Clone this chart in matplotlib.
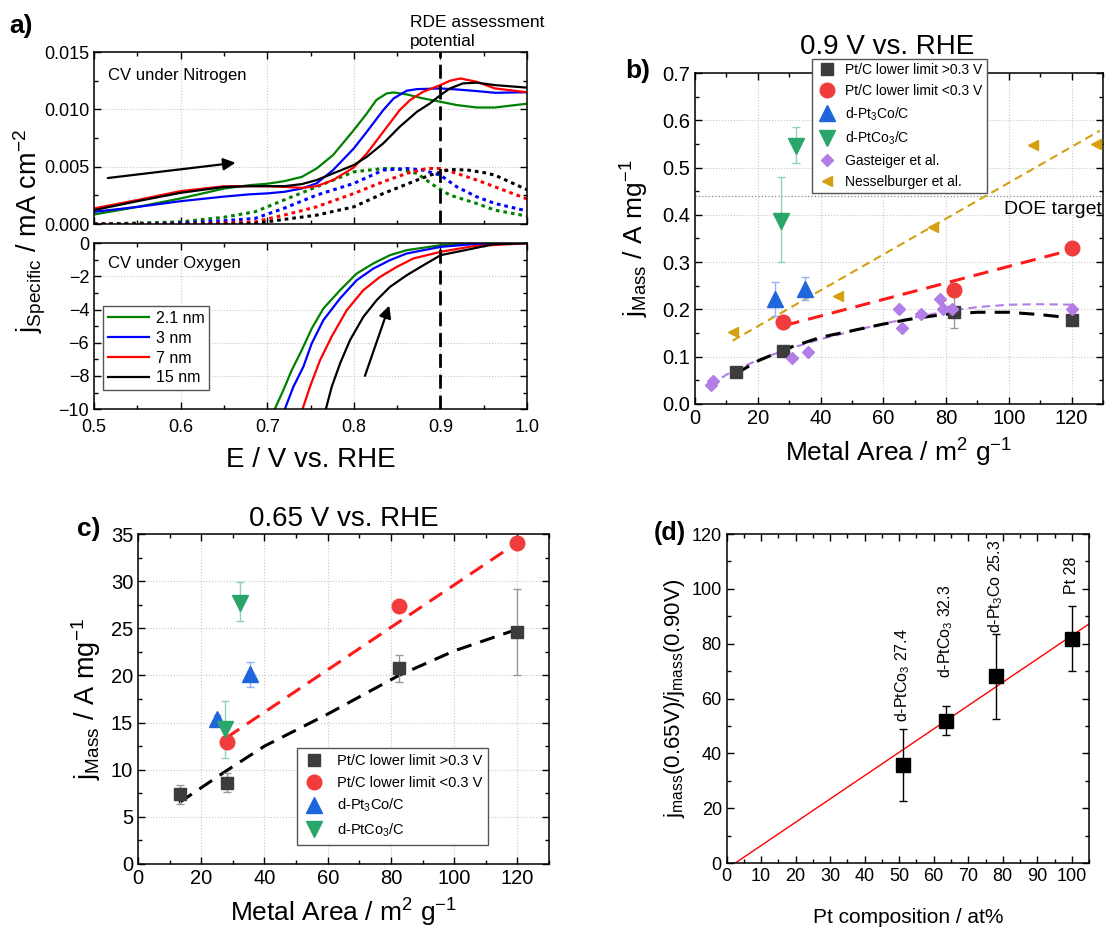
import matplotlib.pyplot as plt
from matplotlib.ticker import MultipleLocator, AutoMinorLocator

plt.rcParams['font.family'] = ['Liberation Sans', 'DejaVu Sans']
plt.rcParams['mathtext.default'] = 'regular'

# ---------------- panel a: CV data ----------------
sizes = ['2.1 nm', '3 nm', '7 nm', '15 nm']
size_colors = ['#008000', '#0000ff', '#ff0000', '#000000']

# solid lines, CV under nitrogen
n_E = [
    [0.50, 0.55, 0.60, 0.65, 0.68, 0.70, 0.72, 0.74, 0.757, 0.776, 0.80, 0.815, 0.826, 0.838, 0.846, 0.861, 0.880, 0.90, 0.919, 0.942, 0.963, 1.00],
    [0.50, 0.55, 0.60, 0.65, 0.68, 0.70, 0.72, 0.74, 0.757, 0.776, 0.80, 0.815, 0.834, 0.846, 0.861, 0.873, 0.90, 0.919, 0.942, 0.963, 1.00],
    [0.50, 0.55, 0.60, 0.65, 0.68, 0.70, 0.72, 0.74, 0.757, 0.776, 0.80, 0.815, 0.834, 0.853, 0.865, 0.880, 0.90, 0.911, 0.923, 0.942, 0.963, 1.00],
    [0.50, 0.55, 0.60, 0.65, 0.68, 0.70, 0.72, 0.74, 0.757, 0.776, 0.80, 0.815, 0.834, 0.853, 0.873, 0.888, 0.90, 0.911, 0.926, 0.942, 0.963, 1.00],
]
n_j = [
    [0.00084, 0.0015, 0.00224, 0.0031, 0.0034, 0.00352, 0.00375, 0.00412, 0.00485, 0.00602, 0.0082, 0.00965, 0.01082, 0.0114, 0.01148, 0.01131, 0.01096, 0.01067, 0.01038, 0.01017, 0.01017, 0.0105],
    [0.00107, 0.0015, 0.0020, 0.0024, 0.0026, 0.00268, 0.00282, 0.00311, 0.00355, 0.00471, 0.0066, 0.00805, 0.00994, 0.01096, 0.01163, 0.01177, 0.01183, 0.01174, 0.0116, 0.01145, 0.0115],
    [0.00137, 0.0021, 0.00288, 0.0033, 0.00331, 0.00331, 0.00325, 0.00316, 0.00331, 0.00384, 0.00494, 0.00616, 0.00805, 0.00994, 0.01082, 0.01154, 0.01212, 0.0125, 0.0127, 0.01241, 0.01183, 0.0115],
    [0.00122, 0.0020, 0.00273, 0.00324, 0.00331, 0.00331, 0.00331, 0.00349, 0.00384, 0.00442, 0.00515, 0.00587, 0.00704, 0.00849, 0.0098, 0.01053, 0.01125, 0.01183, 0.01227, 0.01233, 0.01212, 0.0119],
]
# dotted lines
d_E = [
    [0.50, 0.55, 0.60, 0.65, 0.686, 0.719, 0.757, 0.80, 0.834, 0.849, 0.873, 0.892, 0.911, 0.942, 0.963, 1.00],
    [0.50, 0.55, 0.60, 0.65, 0.686, 0.719, 0.757, 0.80, 0.834, 0.861, 0.880, 0.90, 0.919, 0.942, 0.963, 1.00],
    [0.50, 0.55, 0.60, 0.65, 0.686, 0.719, 0.757, 0.80, 0.834, 0.861, 0.884, 0.90, 0.919, 0.942, 0.963, 1.00],
    [0.50, 0.55, 0.60, 0.65, 0.686, 0.719, 0.757, 0.80, 0.834, 0.873, 0.888, 0.911, 0.932, 0.951, 0.963, 1.00],
]
d_j = [
    [0.0, 0.0001, 0.0002, 0.0006, 0.00108, 0.00209, 0.00325, 0.00456, 0.00485, 0.00485, 0.00442, 0.0034, 0.00253, 0.0018, 0.00122, 0.0007],
    [0.0, 0.0, 0.0001, 0.0003, 0.0005, 0.00137, 0.00253, 0.00355, 0.00471, 0.00485, 0.00471, 0.00427, 0.00325, 0.00238, 0.0018, 0.00115],
    [0.0, 0.0, 0.0, 0.0001, 0.0002, 0.00078, 0.00151, 0.00267, 0.0037, 0.00442, 0.00485, 0.00485, 0.00442, 0.00384, 0.00325, 0.0022],
    [0.0, 0.0, 0.0, 0.0, 0.00006, 0.00041, 0.00078, 0.00151, 0.00267, 0.00384, 0.00427, 0.00477, 0.00471, 0.00448, 0.00427, 0.0030],
]
# CV under oxygen
o_E = [
    [0.709, 0.7186, 0.7283, 0.7398, 0.7514, 0.7648, 0.7841, 0.8033, 0.8225, 0.8418, 0.8611, 0.9003, 0.938, 1.00],
    [0.7206, 0.7302, 0.7417, 0.7514, 0.7648, 0.7841, 0.8033, 0.8225, 0.8418, 0.8611, 0.9003, 0.938, 1.00],
    [0.741, 0.7494, 0.761, 0.7745, 0.7918, 0.811, 0.8303, 0.8495, 0.8687, 0.9003, 0.938, 1.00],
    [0.7679, 0.7745, 0.7841, 0.7956, 0.811, 0.8264, 0.8418, 0.8611, 0.8803, 0.9003, 0.938, 0.961, 1.00],
]
o_j = [
    [-9.96, -8.86, -7.65, -6.45, -5.14, -3.94, -2.83, -1.83, -1.22, -0.72, -0.42, -0.12, -0.02, 0],
    [-9.96, -8.65, -7.45, -6.04, -4.64, -3.33, -2.23, -1.53, -1.02, -0.62, -0.22, -0.06, 0],
    [-9.96, -8.65, -7.05, -5.62, -4.04, -2.83, -2.03, -1.43, -0.92, -0.52, -0.18, 0],
    [-9.96, -8.65, -7.25, -5.84, -4.44, -3.43, -2.63, -1.93, -1.33, -0.72, -0.32, -0.06, 0],
]

# ---------------- panel b: 0.9 V ----------------
b_sq_x = [13, 28, 82.5, 120]
b_sq_y = [0.068, 0.113, 0.194, 0.178]
b_sq_err = [0, 0, 0.034, 0]
b_ci_x = [28, 82.5, 120]
b_ci_y = [0.173, 0.242, 0.33]
b_up_x = [25.4, 35.2]
b_up_y = [0.222, 0.244]
b_up_err = [0.035, 0.024]
b_dn_x = [27.3, 32.2]
b_dn_y = [0.388, 0.545]
b_dn_lo = [0.088, 0.035]
b_dn_hi = [0.092, 0.041]
gast_x = [5.1, 5.8, 31, 36, 65, 66, 72, 78, 79, 82, 120]
gast_y = [0.041, 0.049, 0.098, 0.111, 0.201, 0.161, 0.191, 0.221, 0.201, 0.200, 0.200]
ness_x = [12, 45.6, 75.9, 107.6, 127.9]
ness_y = [0.153, 0.229, 0.374, 0.547, 0.550]
# fitted trend lines
b_fit_black_x = [13, 20, 30, 40, 50, 60, 70, 80, 90, 100, 110, 120]
b_fit_black_y = [0.064, 0.091, 0.119, 0.141, 0.155, 0.169, 0.181, 0.190, 0.194, 0.194, 0.189, 0.182]
b_fit_purple_x = [5, 10, 20, 30, 40, 50, 60, 70, 80, 90, 100, 110, 120]
b_fit_purple_y = [0.040, 0.062, 0.093, 0.117, 0.137, 0.154, 0.170, 0.183, 0.196, 0.205, 0.210, 0.211, 0.210]
b_fit_red_x = [28.5, 120]
b_fit_red_y = [0.166, 0.326]
b_fit_gold_x = [12, 129]
b_fit_gold_y = [0.134, 0.578]
doe_target = 0.44

# ---------------- panel c: 0.65 V ----------------
c_sq_x = [13.2, 28.2, 82.5, 120]
c_sq_y = [7.4, 8.6, 20.75, 24.6]
c_sq_err = [1.0, 1.0, 1.4, 4.6]
c_ci_x = [28, 82.5, 120]
c_ci_y = [12.9, 27.4, 34.0]
c_up_x = [25.1, 35.3]
c_up_y = [15.35, 20.1]
c_up_err = [0.5, 1.35]
c_dn_x = [27.4, 32.3]
c_dn_y = [14.3, 27.7]
c_dn_lo = [3.1, 1.9]
c_dn_hi = [3.0, 2.2]
c_fit_red_x = [28, 120]
c_fit_red_y = [13.4, 34.1]
c_fit_black_x = [13, 28, 40, 60, 82.5, 100, 120]
c_fit_black_y = [6.5, 9.9, 12.5, 15.9, 20.0, 22.6, 24.9]

# ---------------- panel d: ratio ----------------
d_x = [51.0, 63.5, 78.0, 100.0]
d_y = [35.8, 51.9, 68.1, 81.8]
d_err = [13.2, 5.3, 15.5, 11.8]
d_labels = ['d-PtCo$_3$ 27.4', 'd-PtCo$_3$ 32.3', 'd-Pt$_3$Co 25.3', 'Pt 28']
d_label_y = [51.5, 67.5, 84.0, 98.0]
d_fit_x = [2.5, 105]
d_fit_y = [0.0, 87.2]

leg_labels = ['Pt/C lower limit >0.3 V', 'Pt/C lower limit <0.3 V',
              'd-Pt$_3$Co/C', 'd-PtCo$_3$/C']
c_gray, c_red, c_blue, c_green = '#3c3c3c', '#f03c3c', '#1f66dd', '#2aa66a'
c_purple, c_gold = '#b27de6', '#d4a010'


def style(ax, xmaj, ymaj, size, grid=True):
    ax.xaxis.set_major_locator(MultipleLocator(xmaj))
    ax.yaxis.set_major_locator(MultipleLocator(ymaj))
    ax.xaxis.set_minor_locator(AutoMinorLocator(2))
    ax.yaxis.set_minor_locator(AutoMinorLocator(2))
    ax.tick_params(which='both', direction='in', top=True, right=True,
                   labelsize=size, width=1)
    ax.tick_params(which='major', length=5)
    ax.tick_params(which='minor', length=3)
    for s in ax.spines.values():
        s.set_linewidth(1.1)
    if grid:
        ax.grid(True, which='major', color='#c8c8c8', ls=':', lw=0.8)
        ax.set_axisbelow(True)


def markers(ax, sq, ci, up, dn):
    # marker-only series, drawn on top of the error bars
    h1, = ax.plot(*sq, 's', color=c_gray, ms=9, zorder=5)
    h2, = ax.plot(*ci, 'o', color=c_red, ms=10.5, zorder=5)
    h3, = ax.plot(*up, '^', color=c_blue, ms=11, zorder=5)
    h4, = ax.plot(*dn, 'v', color=c_green, ms=11, zorder=5)
    return [h1, h2, h3, h4]


fig = plt.figure(figsize=(11.06, 9.3), dpi=100)

# ---- a) top ----
ax1 = fig.add_axes([0.0850, 0.759, 0.3915, 0.185])
for i in range(4):
    ax1.plot(n_E[i], n_j[i], color=size_colors[i], lw=1.6)
    ax1.plot(d_E[i], d_j[i], color=size_colors[i], lw=2.2, ls=(0, (1.2, 1.3)))
ax1.axvline(0.9, color='black', lw=2, ls=(0, (5, 2.5)))
ax1.annotate('', xy=(0.6666, 0.00538), xytext=(0.5127, 0.00399),
             arrowprops=dict(arrowstyle='-|>', color='black', lw=1.6, mutation_scale=18))
ax1.text(0.5157, 0.0130, 'CV under Nitrogen', fontsize=12, va='center')
ax1.text(0.865, 0.01525, 'RDE assessment\npotential', fontsize=12.5, va='bottom',
         linespacing=1.35)
ax1.set_xlim(0.5, 1.0)
ax1.set_ylim(0, 0.015)
style(ax1, 0.1, 0.005, 13)
ax1.yaxis.set_major_formatter(plt.FormatStrFormatter('%.3f'))
ax1.tick_params(labelbottom=False)

# ---- a) bottom ----
ax2 = fig.add_axes([0.0850, 0.560, 0.3915, 0.1785])
for i in range(4):
    ax2.plot(o_E[i], o_j[i], color=size_colors[i], lw=1.6, label=sizes[i])
ax2.axvline(0.9, color='black', lw=2, ls=(0, (5, 2.5)))
ax2.annotate('', xy=(0.842, -3.6), xytext=(0.8118, -8.15),
             arrowprops=dict(arrowstyle='-|>', color='black', lw=1.6, mutation_scale=18))
ax2.text(0.5157, -1.2, 'CV under Oxygen', fontsize=12, va='center')
ax2.set_xlim(0.5, 1.0)
ax2.set_ylim(-10, 0)
style(ax2, 0.1, 2, 13)
ax2.tick_params(axis='x', pad=7)
ax2.xaxis.set_major_formatter(plt.FormatStrFormatter('%.1f'))
ax2.legend(loc='upper left', bbox_to_anchor=(0.021, 0.62), borderaxespad=0,
           fontsize=11.5, fancybox=False, edgecolor='#555555', framealpha=1,
           handlelength=2.6, labelspacing=0.3, borderpad=0.3, handletextpad=0.4)
ax2.set_xlabel('E / V vs. RHE', fontsize=20)
ax2.xaxis.set_label_coords(0.5, -0.307)
ax2.xaxis.label.set_va('center')
fig.text(0.027, 0.752, '$j_{Specific}$ / mA cm$^{-2}$', rotation=90, fontsize=19.5,
         ha='center', va='center')
fig.text(0.008, 0.972, 'a)', fontsize=19, fontweight='bold', va='center')

# ---- b) ----
axb = fig.add_axes([0.6284, 0.5656, 0.3689, 0.3559])
axb.axhline(doe_target, color='#888888', lw=0.9, ls=':')
axb.text(129.5, 0.412, 'DOE target', fontsize=14, ha='right', va='center')
axb.plot(b_fit_gold_x, b_fit_gold_y, color=c_gold, lw=1.5, ls=(0, (4, 2.5)))
axb.plot(b_fit_red_x, b_fit_red_y, color='#ff1a1a', lw=2.2, ls=(0, (5, 3)))
axb.plot(b_fit_purple_x, b_fit_purple_y, color=c_purple, lw=1.5, ls=(0, (4, 2.5)))
axb.plot(b_fit_black_x, b_fit_black_y, color='black', lw=2.2, ls=(0, (5, 3)))
axb.errorbar(b_sq_x, b_sq_y, yerr=b_sq_err, fmt='none', ecolor='#999999',
             elinewidth=1, capsize=3)
axb.errorbar(b_up_x, b_up_y, yerr=b_up_err, fmt='none', ecolor='#8fb4ee',
             elinewidth=1, capsize=3)
axb.errorbar(b_dn_x, b_dn_y, yerr=[b_dn_lo, b_dn_hi], fmt='none', ecolor='#8fd3b0',
             elinewidth=1, capsize=3)
hb = markers(axb, (b_sq_x, b_sq_y), (b_ci_x, b_ci_y), (b_up_x, b_up_y), (b_dn_x, b_dn_y))
hg, = axb.plot(gast_x, gast_y, 'D', color=c_purple, ms=6, zorder=5)
hn, = axb.plot(ness_x, ness_y, '<', color=c_gold, ms=7, zorder=5)
axb.set_xlim(0, 130)
axb.set_ylim(0, 0.7)
style(axb, 20, 0.1, 14.5)
axb.yaxis.set_major_formatter(plt.FormatStrFormatter('%.1f'))
axb.set_xlabel('Metal Area / m$^2$ g$^{-1}$', fontsize=19)
axb.xaxis.set_label_coords(0.5, -0.148)
axb.xaxis.label.set_va('center')
axb.set_ylabel('$j_{Mass}$ / A mg$^{-1}$', fontsize=19)
axb.yaxis.set_label_coords(-0.147, 0.5)
axb.yaxis.label.set_va('center')
axb.set_title('0.9 V vs. RHE', fontsize=20, pad=14, x=0.47)
lb = axb.legend(hb + [hg, hn], leg_labels + ['Gasteiger et al.', 'Nesselburger et al.'],
                loc='upper left', bbox_to_anchor=(0.287, 1.042), borderaxespad=0,
                fontsize=10, fancybox=False, edgecolor='#555555', framealpha=1,
                labelspacing=0.5, borderpad=0.3, handletextpad=0.6, handlelength=1.5)
lb.set_zorder(10)
fig.text(0.565, 0.924, 'b)', fontsize=19, fontweight='bold', va='center')

# ---- c) ----
axc = fig.add_axes([0.1248, 0.0710, 0.3716, 0.3548])
axc.plot(c_fit_red_x, c_fit_red_y, color='#ff1a1a', lw=2.2, ls=(0, (5, 3)))
axc.plot(c_fit_black_x, c_fit_black_y, color='black', lw=2.2, ls=(0, (5, 3)))
axc.errorbar(c_sq_x, c_sq_y, yerr=c_sq_err, fmt='none', ecolor='#999999',
             elinewidth=1, capsize=3)
axc.errorbar(c_up_x, c_up_y, yerr=c_up_err, fmt='none', ecolor='#8fb4ee',
             elinewidth=1, capsize=3)
axc.errorbar(c_dn_x, c_dn_y, yerr=[c_dn_lo, c_dn_hi], fmt='none', ecolor='#8fd3b0',
             elinewidth=1, capsize=3)
hc = markers(axc, (c_sq_x, c_sq_y), (c_ci_x, c_ci_y), (c_up_x, c_up_y), (c_dn_x, c_dn_y))
axc.set_xlim(0, 130)
axc.set_ylim(0, 35)
style(axc, 20, 5, 14.5)
axc.set_xlabel('Metal Area / m$^2$ g$^{-1}$', fontsize=19)
axc.xaxis.set_label_coords(0.5, -0.148)
axc.xaxis.label.set_va('center')
axc.set_ylabel('$j_{Mass}$ / A mg$^{-1}$', fontsize=19.5)
axc.yaxis.set_label_coords(-0.1265, 0.5)
axc.yaxis.label.set_va('center')
axc.set_title('0.65 V vs. RHE', fontsize=20, pad=6)
axc.legend(hc, leg_labels, loc='upper left', bbox_to_anchor=(0.388, 0.350),
           borderaxespad=0, fontsize=10.5, fancybox=False, edgecolor='#555555',
           framealpha=1, labelspacing=0.5, borderpad=0.4, handletextpad=0.8,
           handlelength=1.5)
fig.text(0.070, 0.431, 'c)', fontsize=19, fontweight='bold', va='center')

# ---- d) ----
axd = fig.add_axes([0.657, 0.072, 0.3277, 0.3538])
axd.plot(d_fit_x, d_fit_y, color='#ff0000', lw=1)
axd.errorbar(d_x, d_y, yerr=d_err, fmt='s', color='black', ms=10,
             ecolor='black', elinewidth=1, capsize=3, zorder=5)
for x, y, t in zip(d_x, d_label_y, d_labels):
    axd.text(x, y, t, rotation=90, ha='center', va='bottom', fontsize=11.5)
axd.set_xlim(0, 105)
axd.set_ylim(0, 120)
style(axd, 10, 20, 13, grid=False)
axd.set_xlabel('Pt composition / at%', fontsize=15)
axd.xaxis.set_label_coords(0.5, -0.167)
axd.xaxis.label.set_va('center')
axd.set_ylabel('$j_{mass}$(0.65V)/$j_{mass}$(0.90V)', fontsize=16)
axd.yaxis.set_label_coords(-0.145, 0.5)
axd.yaxis.label.set_va('center')
fig.text(0.591, 0.427, '(d)', fontsize=18, fontweight='bold', va='center')

fig.savefig('out.png', dpi=100)
